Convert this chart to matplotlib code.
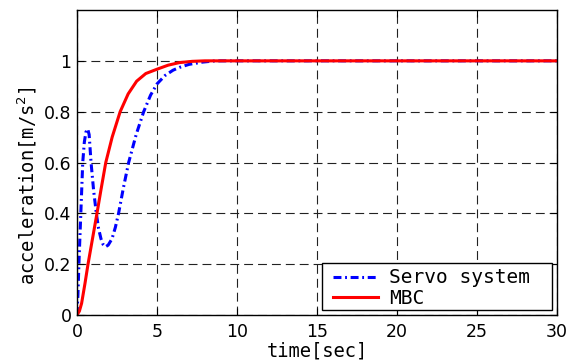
import numpy as np
import matplotlib
matplotlib.use("Agg")
import matplotlib.pyplot as plt
from matplotlib.patches import Rectangle

# step responses (time [sec], acceleration [m/s^2])
servo_t = [0, 0.06, 0.12, 0.24, 0.36, 0.46, 0.56, 0.67, 0.76, 0.88, 1.04, 1.21,
           1.35, 1.5, 1.63, 1.77, 1.95, 2.19, 2.4, 2.6, 2.9, 3.23, 3.7, 4.17,
           4.6, 5.0, 5.5, 6.0, 6.4, 7.0, 7.85, 8.5, 9.0, 30]
servo_a = [0, 0.08, 0.2, 0.4, 0.6, 0.68, 0.72, 0.732, 0.71, 0.6, 0.49, 0.4,
           0.34, 0.3, 0.278, 0.268, 0.275, 0.3, 0.345, 0.4, 0.5, 0.6, 0.71, 0.8,
           0.865, 0.909, 0.942, 0.963, 0.974, 0.986, 0.995, 0.999, 1.0, 1.0]

mbc_t = [0, 0.15, 0.29, 0.5, 0.69, 0.97, 1.25, 1.52, 1.8, 2.2, 2.7, 3.2,
         3.73, 4.3, 5.0, 5.7, 6.4, 7.2, 8.0, 30]
mbc_a = [0, 0.015, 0.046, 0.124, 0.2, 0.3, 0.4, 0.5, 0.6, 0.7, 0.8, 0.87,
         0.92, 0.95, 0.967, 0.983, 0.993, 0.998, 1.0, 1.0]

xticks = [0, 5, 10, 15, 20, 25, 30]
yticks = [0, 0.2, 0.4, 0.6, 0.8, 1.0]
ytick_labels = ["0", "0.2", "0.4", "0.6", "0.8", "1"]

plt.rcParams['font.family'] = ['DejaVu Sans']
mono = 'DejaVu Sans Mono'

fig = plt.figure(figsize=(5.77, 3.61), dpi=100)
ax = fig.add_axes([0.1334, 0.1274, 0.8319, 0.8449])

ax.plot(servo_t, servo_a, color='#0000ff', lw=2.2, dashes=(2.6, 1.2, 0.6, 1.2),
        label='Servo system')
ax.plot(mbc_t, mbc_a, color='#ff0000', lw=2.2, label='MBC')

ax.set_xlim(0, 30)
ax.set_ylim(0, 1.2)
ax.set_xticks(xticks)
ax.set_yticks(yticks)
ax.set_yticklabels(ytick_labels)
ax.tick_params(direction='in', top=True, right=True, labelsize=12.5, length=5,
               width=0.8)
ax.tick_params(axis='x', pad=6)
ax.tick_params(axis='y', pad=4)
ax.grid(True, color='#222222', linestyle=(0, (8, 4.5)), linewidth=0.8)
for s in ax.spines.values():
    s.set_linewidth(1.0)

ax.set_xlabel('time[sec]', family=mono, fontsize=13.5, labelpad=0)
ax.set_ylabel('acceleration[m/s$^2$]', family=mono, fontsize=13.5)
ax.yaxis.set_label_coords(-0.08, 0.423)

# legend box drawn separately so the padding can differ per side
ax.add_patch(Rectangle((0.5104, 0.0164), 0.4792, 0.1541, transform=ax.transAxes,
                       facecolor='white', edgecolor='black', lw=1.0, zorder=4))
leg = ax.legend(loc='upper left', bbox_to_anchor=(0.5333, 0.153),
                prop={'family': mono, 'size': 14}, frameon=False,
                borderaxespad=0, borderpad=0, handlelength=2.3,
                handletextpad=0.6, labelspacing=0.1)
leg.set_zorder(5)

fig.savefig('out.png', dpi=100)
